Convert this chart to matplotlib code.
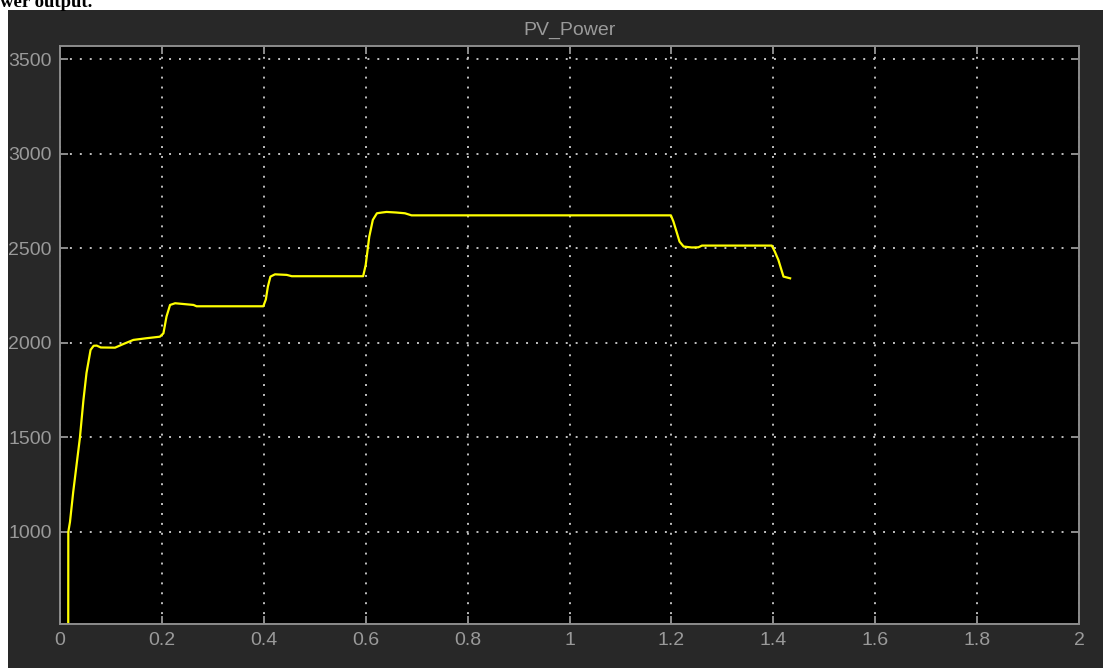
import matplotlib
matplotlib.use('Agg')
import matplotlib.pyplot as plt
from matplotlib.patches import Rectangle

# PV power trace (time in s, power in W)
t = [0.0160, 0.0163, 0.0196, 0.026, 0.039, 0.046, 0.052, 0.060, 0.066, 0.072,
     0.080, 0.108, 0.125, 0.144, 0.170, 0.196, 0.203, 0.209, 0.216, 0.226,
     0.262, 0.268, 0.399, 0.404, 0.408, 0.413, 0.422, 0.445, 0.455, 0.595,
     0.600, 0.607, 0.614, 0.622, 0.632, 0.641, 0.660, 0.677, 0.690, 1.199,
     1.204, 1.210, 1.216, 1.224, 1.240, 1.253, 1.260, 1.397, 1.403, 1.410,
     1.416, 1.420, 1.433]
p = [0, 1000, 1053, 1213, 1497, 1698, 1841, 1963, 1985, 1986,
     1976, 1975, 1995, 2016, 2025, 2033, 2051, 2139, 2201, 2210,
     2201, 2194, 2194, 2230, 2298, 2351, 2363, 2360, 2353, 2353,
     2413, 2562, 2651, 2686, 2690, 2693, 2690, 2686, 2675, 2675,
     2642, 2589, 2536, 2510, 2505, 2506, 2515, 2515, 2483, 2439,
     2386, 2351, 2342]

xticks = [0, 0.2, 0.4, 0.6, 0.8, 1, 1.2, 1.4, 1.6, 1.8, 2]
xlabels = ['0', '0.2', '0.4', '0.6', '0.8', '1', '1.2', '1.4', '1.6', '1.8', '2']
yticks = [1000, 1500, 2000, 2500, 3000, 3500]

W, H = 1103, 668
fig = plt.figure(figsize=(W / 100, H / 100), dpi=100)
fig.patch.set_facecolor('white')

# dark scope window behind the axes
fig.patches.append(Rectangle((8 / W, 0), 1 - 8 / W, 1 - 10 / H, transform=fig.transFigure,
                             facecolor='#282828', edgecolor='none', zorder=-10))
# caption of the document, its top is cut off like in the screenshot
fig.text(0.5 / W, 1 - 7 / H, 'wer output.', family='Liberation Serif', weight='bold',
         fontsize=13.5, color='black', va='baseline', ha='left')

ax = fig.add_axes([60 / W, 44 / H, (1079 - 60) / W, (624 - 46) / H])
ax.set_facecolor('black')
ax.plot(t, p, color='#ffff00', lw=1.6)

ax.set_xlim(0, 2)
ax.set_ylim(513, 3571)
ax.set_xticks(xticks)
ax.set_xticklabels(xlabels)
ax.set_yticks(yticks)

gray = '#9a9a9a'
for s in ax.spines.values():
    s.set_color('#8c8c8c')
    s.set_linewidth(1.4)
ax.tick_params(direction='in', length=6, width=1.4, color='#8c8c8c',
               top=True, right=True, labelcolor=gray, labelsize=14, pad=6)
for lab in ax.get_xticklabels() + ax.get_yticklabels():
    lab.set_family('Liberation Sans')

ax.grid(True, color='#c0c0c0', linestyle=(0, (1, 4.1)), linewidth=1.4)
ax.set_title('PV_Power', color=gray, fontsize=14, family='Liberation Sans', pad=8)

fig.savefig('out.png', dpi=100, facecolor=fig.get_facecolor())
